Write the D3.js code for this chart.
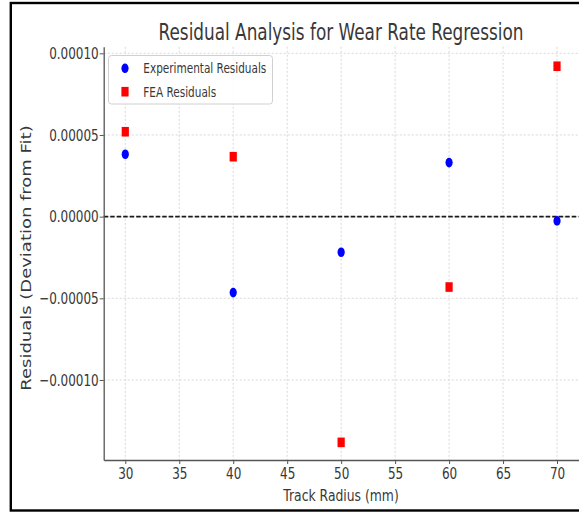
<!DOCTYPE html>
<html>
<head>
<meta charset="utf-8">
<script src="https://cdn.jsdelivr.net/npm/d3@7/dist/d3.min.js"></script>
<style>
  html, body { margin: 0; padding: 0; background: #fff; }
  svg { display: block; font-family: "DejaVu Sans", sans-serif; }
</style>
</head>
<body>
<svg id="chart" width="579" height="512"></svg>
<script>
// Track radius values (mm)
const radii = [30, 40, 50, 60, 70];
// Residuals of the experimental measurements
const experimentalResiduals = [0.0000382, -0.0000465, -0.0000218, 0.0000331, -0.0000026];
// Residuals of the FEA predictions
const feaResiduals = [0.0000520, 0.0000367, -0.0001382, -0.0000431, 0.0000921];
// Axis ticks
const xTicks = [30, 35, 40, 45, 50, 55, 60, 65, 70];
const yTicks = [-0.0001, -0.00005, 0, 0.00005, 0.0001];
const seriesNames = ["Experimental Residuals", "FEA Residuals"];

const SQ = 0.75; // horizontal glyph compression
const ink = "#383838";

const svg = d3.select("#chart");

// outer frame
svg.append("rect")
  .attr("x", 10.8).attr("y", 3).attr("width", 600).attr("height", 507.5)
  .attr("fill", "none").attr("stroke", "#000").attr("stroke-width", 2.4);

const x = d3.scaleLinear().domain([28, 72]).range([103.7, 578.6]);
const y = d3.scaleLinear().domain([-0.000149, 0.000104]).range([460, 46.8]);

const plot = svg.append("g");

// grid
plot.append("g").selectAll("line").data(xTicks).join("line")
  .attr("x1", d => x(d)).attr("x2", d => x(d))
  .attr("y1", y.range()[1]).attr("y2", y.range()[0])
  .attr("stroke", "#d4d4d4").attr("stroke-width", 0.9).attr("stroke-dasharray", "2,2");
plot.append("g").selectAll("line").data(yTicks).join("line")
  .attr("x1", x.range()[0]).attr("x2", x.range()[1])
  .attr("y1", d => y(d)).attr("y2", d => y(d))
  .attr("stroke", "#d4d4d4").attr("stroke-width", 0.9).attr("stroke-dasharray", "2,2");

// zero reference line
plot.append("line")
  .attr("x1", x.range()[0]).attr("x2", x.range()[1])
  .attr("y1", y(0)).attr("y2", y(0))
  .attr("stroke", "#1a1a1a").attr("stroke-width", 1.9).attr("stroke-dasharray", "4.5,2");

// axes
const fmt = v => (v < 0 ? "\u2212" : "") + Math.abs(v).toFixed(5);
const xAxis = svg.append("g").attr("transform", `translate(0,${y.range()[0]})`)
  .call(d3.axisBottom(x).tickValues(xTicks).tickSizeInner(4).tickSizeOuter(0)
    .tickPadding(4).tickFormat(d3.format("d")));
const yAxis = svg.append("g").attr("transform", `translate(${x.range()[0]},0)`)
  .call(d3.axisLeft(y).tickValues(yTicks).tickSizeInner(4).tickSizeOuter(0)
    .tickPadding(1).tickFormat(fmt));

[xAxis, yAxis].forEach(ax => {
  ax.select(".domain").attr("stroke", "#555").attr("stroke-width", 1.3);
  ax.selectAll(".tick line").attr("stroke", "#555").attr("stroke-width", 1);
  ax.selectAll("text").attr("fill", ink).style("font-size", "16px")
    .style("font-family", "DejaVu Sans, sans-serif");
});
xAxis.selectAll(".tick text").attr("transform", `scale(${SQ},1)`);
yAxis.selectAll(".tick text").each(function () {
  const t = d3.select(this);
  t.attr("x", +t.attr("x") / SQ).attr("transform", `scale(${SQ},1)`);
});

// data points
plot.append("g").selectAll("ellipse").data(radii).join("ellipse")
  .attr("cx", d => x(d)).attr("cy", (d, i) => y(experimentalResiduals[i]))
  .attr("rx", 3.6).attr("ry", 4.8).attr("fill", "#0000ff");
plot.append("g").selectAll("rect").data(radii).join("rect")
  .attr("x", d => x(d) - 3.6).attr("y", (d, i) => y(feaResiduals[i]) - 4.8)
  .attr("width", 7.2).attr("height", 9.6).attr("fill", "#ff0000");

// title and axis labels
svg.append("text")
  .attr("transform", `translate(341,40) scale(${SQ},1)`)
  .attr("text-anchor", "middle").attr("fill", ink).style("font-size", "22.5px")
  .text("Residual Analysis for Wear Rate Regression");
svg.append("text")
  .attr("transform", `translate(341,501) scale(${SQ},1)`)
  .attr("text-anchor", "middle").attr("fill", ink).style("font-size", "16.5px")
  .text("Track Radius (mm)");
svg.append("text")
  .attr("transform", `translate(31,258) rotate(-90) scale(1,${SQ})`)
  .attr("text-anchor", "middle").attr("fill", ink).style("font-size", "18px")
  .text("Residuals (Deviation from Fit)");

// legend
const lg = svg.append("g");
lg.append("rect")
  .attr("x", 108.5).attr("y", 55.5).attr("width", 164).attr("height", 48.5).attr("rx", 3)
  .attr("fill", "#fff").attr("fill-opacity", 0.85).attr("stroke", "#d0d0d0").attr("stroke-width", 1);
lg.append("ellipse").attr("cx", 125).attr("cy", 68.3).attr("rx", 3.6).attr("ry", 4.8).attr("fill", "#0000ff");
lg.append("rect").attr("x", 125 - 3.6).attr("y", 91.7 - 4.8).attr("width", 7.2).attr("height", 9.6).attr("fill", "#ff0000");
lg.selectAll("text.lab").data(seriesNames).join("text").attr("class", "lab")
  .attr("transform", (d, i) => `translate(143.3,${73.3 + i * 23.4}) scale(${SQ},1)`)
  .attr("fill", ink).style("font-size", "14px").text(d => d);
</script>
</body>
</html>
